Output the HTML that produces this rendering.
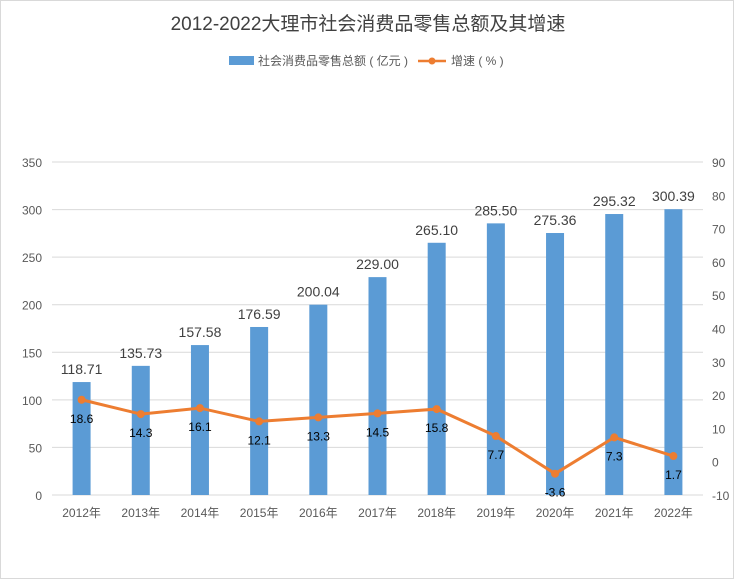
<!DOCTYPE html>
<html><head><meta charset="utf-8"><style>
body{margin:0;background:#fff}
svg{display:block;font-family:"Liberation Sans","Noto Sans CJK SC",sans-serif}
</style></head><body>
<svg id="chart" width="737" height="587">
<rect x="0.5" y="0.5" width="733" height="578" fill="#fff" stroke="#d9d9d9"/>
<text x="368" y="30" text-anchor="middle" font-size="19" fill="#404040">2012-2022大理市社会消费品零售总额及其增速</text>
<g>
<rect x="229" y="56" width="25" height="9" fill="#5b9bd5"/>
<text x="258" y="65" font-size="12" fill="#595959">社会消费品零售总额 ( 亿元 )</text>
<line x1="418" y1="61" x2="446" y2="61" stroke="#ed7d31" stroke-width="2.5"/>
<circle cx="432" cy="61" r="3.5" fill="#ed7d31"/>
<text x="451" y="65" font-size="12" fill="#595959">增速 ( % )</text>
</g>
<g id="grid"></g><g id="bars"></g><g id="line"></g><g id="labels"></g><g id="axes"></g>
</svg>
<script>
const categories=["2012年","2013年","2014年","2015年","2016年","2017年","2018年","2019年","2020年","2021年","2022年"];
const sales=[118.71,135.73,157.58,176.59,200.04,229.00,265.10,285.50,275.36,295.32,300.39];
const growth=[18.6,14.3,16.1,12.1,13.3,14.5,15.8,7.7,-3.6,7.3,1.7];
const leftTicks=[0,50,100,150,200,250,300,350];
const rightTicks=[-10,0,10,20,30,40,50,60,70,80,90];
const NS="http://www.w3.org/2000/svg";
const x0=52,x1=703,yBot=495,yTop=162;
const yL=v=>yBot-(v/350)*(yBot-yTop);
const yR=v=>yBot-((v+10)/100)*(yBot-yTop);
const step=(x1-x0)/categories.length;
const xC=i=>x0+step*(i+0.5);
function mk(tag,attrs,parent,txt){const e=document.createElementNS(NS,tag);for(const k in attrs)e.setAttribute(k,attrs[k]);if(txt!==undefined)e.textContent=txt;document.getElementById(parent).appendChild(e);return e;}
leftTicks.forEach(t=>{
  const l=mk("line",{x1:x0,x2:x1,y1:yL(t),y2:yL(t),stroke:"#d9d9d9","stroke-width":1},"grid");
  
  
  const tx=mk("text",{x:42,y:yL(t)+5,"text-anchor":"end","font-size":12,fill:"#595959"},"axes",t);
  
  
});
rightTicks.forEach(t=>{
  const tx=mk("text",{x:712,y:yR(t)+5,"text-anchor":"start","font-size":12,fill:"#595959"},"axes",t);
  
  
});
categories.forEach((c,i)=>{
  const tx=mk("text",{x:xC(i),y:517,"text-anchor":"middle","font-size":12,fill:"#595959"},"axes",c);
  
  
});
sales.forEach((v,i)=>{
  const b=mk("rect",{x:xC(i)-9,y:yL(v),width:18,height:yBot-yL(v),fill:"#5b9bd5"},"bars");
  
  
  const t=mk("text",{x:xC(i),y:yL(v)-8,"text-anchor":"middle","font-size":14,fill:"#404040"},"labels",v.toFixed(2));
  
  
});
const pl=mk("polyline",{points:growth.map((g,i)=>xC(i)+","+yR(g)).join(" "),fill:"none",stroke:"#ed7d31","stroke-width":3},"line");


growth.forEach((g,i)=>{
  const c=mk("circle",{cx:xC(i),cy:yR(g),r:4,fill:"#ed7d31"},"line");
  
  
  const t=mk("text",{x:xC(i),y:yR(g)+23,"text-anchor":"middle","font-size":12,fill:"#000"},"labels",g);
  
  
});
</script>
</body></html>
